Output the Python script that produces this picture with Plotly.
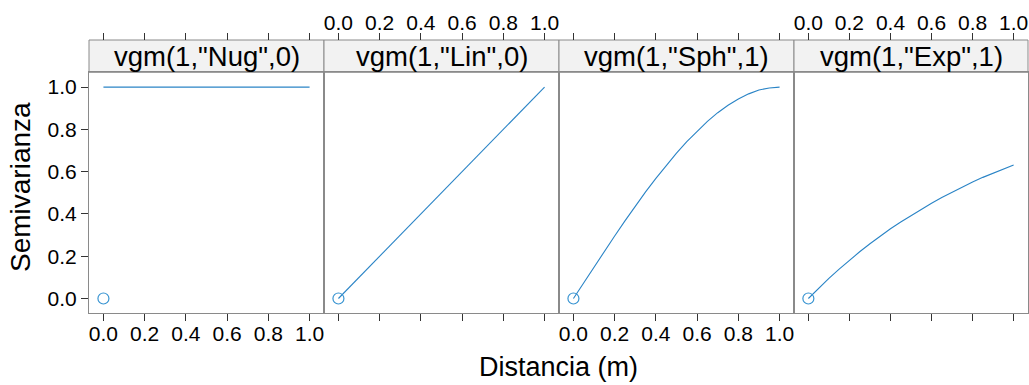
import plotly.graph_objects as go

# ---------------- data ----------------
titles = ['vgm(1,"Nug",0)', 'vgm(1,"Lin",0)', 'vgm(1,"Sph",1)', 'vgm(1,"Exp",1)']
dist = [0.0, 0.05, 0.1, 0.15, 0.2, 0.25, 0.3, 0.35, 0.4, 0.45, 0.5,
        0.55, 0.6, 0.65, 0.7, 0.75, 0.8, 0.85, 0.9, 0.95, 1.0]
nug = [1.0, 1.0, 1.0, 1.0, 1.0, 1.0, 1.0, 1.0, 1.0, 1.0, 1.0,
       1.0, 1.0, 1.0, 1.0, 1.0, 1.0, 1.0, 1.0, 1.0, 1.0]
lin = [0.0, 0.05, 0.1, 0.15, 0.2, 0.25, 0.3, 0.35, 0.4, 0.45, 0.5,
       0.55, 0.6, 0.65, 0.7, 0.75, 0.8, 0.85, 0.9, 0.95, 1.0]
sph = [0.0, 0.075, 0.149, 0.223, 0.296, 0.367, 0.437, 0.504, 0.568, 0.629, 0.688,
       0.742, 0.792, 0.838, 0.879, 0.914, 0.944, 0.968, 0.986, 0.996, 1.0]
expo = [0.0, 0.049, 0.095, 0.139, 0.181, 0.221, 0.259, 0.295, 0.330, 0.362, 0.393,
        0.423, 0.451, 0.478, 0.503, 0.528, 0.551, 0.573, 0.593, 0.613, 0.632]
series = [nug, lin, sph, expo]
point_x = [0.0]
point_y = [0.0]
x_ticks = [0.0, 0.2, 0.4, 0.6, 0.8, 1.0]
y_ticks = [0.0, 0.2, 0.4, 0.6, 0.8, 1.0]
tick_text = ["0.0", "0.2", "0.4", "0.6", "0.8", "1.0"]

# ---------------- layout geometry ----------------
W, H = 1029, 385
edges = [89, 324, 559, 794, 1028]
plot_top, plot_bot = 72.3, 313.3
strip_top = 40.0
xr = [-0.07, 1.07]
yr = [-0.07, 1.07]
blue_line = "#2a84c6"
blue_pt = "#3a95d2"
frame_col = "#8a8a8a"
tick_col = "#333333"
font_fam = "Liberation Sans, Arial, sans-serif"
tick_size = 21

def py(p):
    return (H - p) / H

ydom = [py(plot_bot), py(plot_top)]
strip_pos = py(strip_top)

fig = go.Figure()
for i in range(4):
    xa = "x" if i == 0 else f"x{i+1}"
    ya = "y" if i == 0 else f"y{i+1}"
    fig.add_trace(go.Scatter(x=dist, y=series[i], mode="lines",
                             line=dict(color=blue_line, width=1.1),
                             xaxis=xa, yaxis=ya, showlegend=False, hoverinfo="skip"))
    fig.add_trace(go.Scatter(x=point_x, y=point_y, mode="markers",
                             marker=dict(symbol="circle-open", size=11,
                                         line=dict(color=blue_pt, width=1.2), color=blue_pt),
                             xaxis=xa, yaxis=ya, showlegend=False, hoverinfo="skip"))
    # invisible helper trace so that the top tick axis gets drawn
    fig.add_trace(go.Scatter(x=point_x, y=point_y, mode="markers",
                             marker=dict(opacity=0), xaxis=f"x{i+5}", yaxis=ya,
                             showlegend=False, hoverinfo="skip"))

layout = dict(width=W, height=H, margin=dict(l=0, r=0, t=0, b=0),
              paper_bgcolor="white", plot_bgcolor="rgba(0,0,0,0)",
              font=dict(family=font_fam, color="black"), showlegend=False)

for i in range(4):
    dom = [edges[i] / W, edges[i + 1] / W]
    xk = "xaxis" if i == 0 else f"xaxis{i+1}"
    yk = "yaxis" if i == 0 else f"yaxis{i+1}"
    ya = "y" if i == 0 else f"y{i+1}"
    xa = "x" if i == 0 else f"x{i+1}"
    labels_bottom = i in (0, 2)
    layout[xk] = dict(domain=dom, range=xr, anchor=ya, showgrid=False, zeroline=False,
                      showline=True, linecolor=frame_col, linewidth=1, mirror=True,
                      ticks="outside", ticklen=7, tickwidth=1, tickcolor=tick_col,
                      tickvals=x_ticks, ticktext=tick_text,
                      showticklabels=labels_bottom, ticklabelstandoff=-6,
                      tickfont=dict(size=tick_size, family=font_fam, color="black"))
    layout[yk] = dict(domain=ydom, range=yr, anchor=xa, showgrid=False, zeroline=False,
                      showline=True, linecolor=frame_col, linewidth=1, mirror=True,
                      ticks="outside" if i == 0 else "", ticklen=7, tickwidth=1,
                      tickcolor=tick_col, tickvals=y_ticks, ticktext=tick_text,
                      showticklabels=(i == 0),
                      tickfont=dict(size=tick_size, family=font_fam, color="black"))
    layout[f"xaxis{i+5}"] = dict(overlaying=xa, range=xr, anchor="free", position=strip_pos,
                                 side="top", showgrid=False, zeroline=False, showline=False,
                                 ticks="outside", ticklen=7, tickwidth=1, tickcolor=tick_col,
                                 tickvals=x_ticks, ticktext=tick_text,
                                 showticklabels=not labels_bottom, ticklabelstandoff=-5,
                                 tickfont=dict(size=tick_size, family=font_fam, color="black"))

fig.update_layout(**layout)

shapes = []
annotations = []
for i in range(4):
    shapes.append(dict(type="rect", xref="paper", yref="paper",
                       x0=edges[i] / W, x1=edges[i + 1] / W, y0=ydom[1], y1=strip_pos,
                       fillcolor="#f2f2f2", line=dict(color=frame_col, width=1), layer="below"))
    annotations.append(dict(text=titles[i], xref="paper", yref="paper",
                            x=(edges[i] + edges[i + 1]) / 2 / W, y=py((strip_top + plot_top) / 2),
                            xanchor="center", yanchor="middle", showarrow=False,
                            font=dict(size=27.5, family=font_fam, color="black")))
annotations.append(dict(text="Distancia (m)", xref="paper", yref="paper",
                        x=(edges[0] + edges[4]) / 2 / W, y=py(367), xanchor="center",
                        yanchor="middle", showarrow=False,
                        font=dict(size=27, family=font_fam, color="black")))
annotations.append(dict(text="Semivarianza", xref="paper", yref="paper",
                        x=20 / W, y=py(187), xanchor="center", yanchor="middle",
                        textangle=-90, showarrow=False,
                        font=dict(size=28, family=font_fam, color="black")))
fig.update_layout(shapes=shapes, annotations=annotations)

fig.write_html("out.html")
